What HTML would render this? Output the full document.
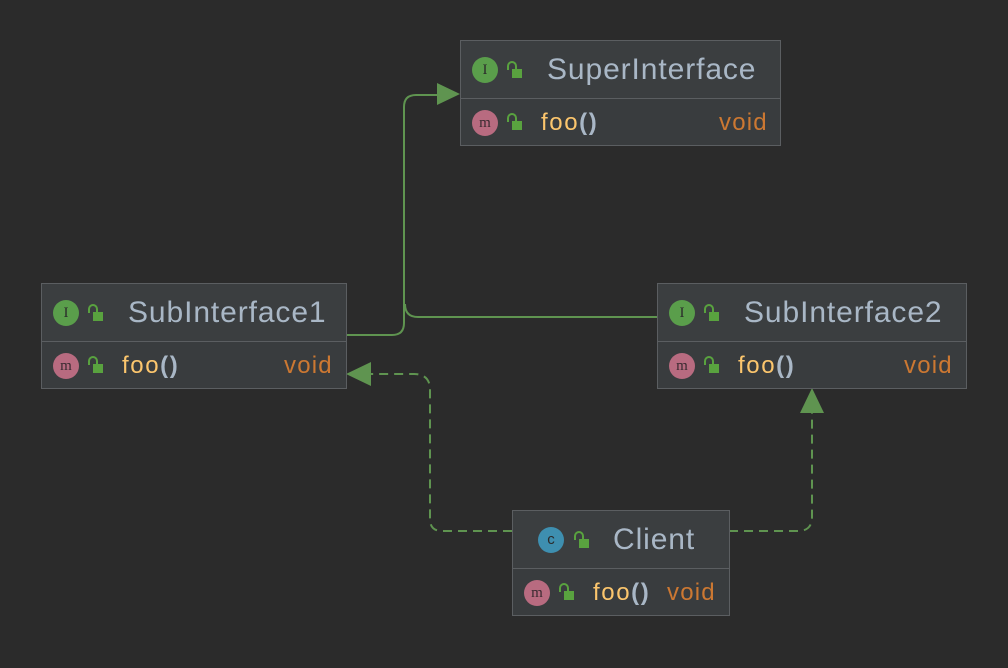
<!DOCTYPE html>
<html><head><style>
body{margin:0;width:1008px;height:668px;background:#2b2b2b;position:relative;overflow:hidden;font-family:"Liberation Sans",sans-serif}
.box{position:absolute;border:1.5px solid #5b5e61;background:#3c3f41;box-sizing:border-box}
.hd{position:absolute;left:0;right:0;top:0;border-bottom:2px solid #5b5e61;background:#3b3e40}
.row{position:absolute;left:0;right:0;bottom:0;background:#393c3e}
.ic{position:absolute;width:26px;height:26px;border-radius:50%;color:#2b2b2b;font-size:15px;text-align:center;line-height:26px;font-family:"Liberation Serif",serif}
.lk{position:absolute;width:10px;height:9px;background:#59a23f}
.lk:before{content:"";position:absolute;left:-5px;top:-8px;width:6px;height:7px;border:2px solid #59a23f;border-bottom:none;border-radius:5px 5px 0 0}
.t{position:absolute;color:#a9b7c6;font-size:30px;letter-spacing:0.9px}
.f{position:absolute;color:#fcc66d;font-size:24px;letter-spacing:1.6px}
.f b{color:#a9b7c6;font-weight:bold}
.v{position:absolute;color:#cc7832;font-size:24px;letter-spacing:1.2px}
</style></head><body>
<svg width="1008" height="668" style="position:absolute;left:0;top:0">
<g fill="none" stroke="#5f9450" stroke-width="2">
<path d="M346 335 H392 Q404 335 404 323 V107 Q404 95 416 95 H440"/>
<path d="M657 317 H418 Q405 317 405 304"/>
<path d="M512 531 H442 Q430 531 430 519 V390 Q430 374 414 374 H370" stroke-dasharray="9,6"/>
<path d="M729 531 H798 Q812 531 812 517 V412" stroke-dasharray="9,6"/>
</g>
<g fill="#5f9450">
<polygon points="460,94 437,83 437,105"/>
<polygon points="346,374 371,362 371,386"/>
<polygon points="812,388 800,413 824,413"/>
</g>
</svg>

<div class="box" style="left:460px;top:40px;width:321px;height:106px">
<div class="hd" style="height:57px"></div><div class="row" style="height:46px"></div>
<div class="ic" style="left:11px;top:16px;background:#5a9e4b">I</div><div class="lk" style="left:51px;top:28px"></div>
<div class="t" style="left:86px;top:12px">SuperInterface</div>
<div class="ic" style="left:11px;top:69px;background:#b86b80;color:#3a2a30">m</div><div class="lk" style="left:51px;top:80px"></div>
<div class="f" style="left:80px;top:68px">foo<b>()</b></div><div class="v" style="left:258px;top:68px">void</div>
</div>

<div class="box" style="left:41px;top:283px;width:306px;height:106px">
<div class="hd" style="height:57px"></div><div class="row" style="height:46px"></div>
<div class="ic" style="left:11px;top:16px;background:#5a9e4b">I</div><div class="lk" style="left:51px;top:28px"></div>
<div class="t" style="left:86px;top:12px">SubInterface1</div>
<div class="ic" style="left:11px;top:69px;background:#b86b80;color:#3a2a30">m</div><div class="lk" style="left:51px;top:80px"></div>
<div class="f" style="left:80px;top:68px">foo<b>()</b></div><div class="v" style="left:242px;top:68px">void</div>
</div>

<div class="box" style="left:657px;top:283px;width:310px;height:106px">
<div class="hd" style="height:57px"></div><div class="row" style="height:46px"></div>
<div class="ic" style="left:11px;top:16px;background:#5a9e4b">I</div><div class="lk" style="left:51px;top:28px"></div>
<div class="t" style="left:86px;top:12px">SubInterface2</div>
<div class="ic" style="left:11px;top:69px;background:#b86b80;color:#3a2a30">m</div><div class="lk" style="left:51px;top:80px"></div>
<div class="f" style="left:80px;top:68px">foo<b>()</b></div><div class="v" style="left:246px;top:68px">void</div>
</div>

<div class="box" style="left:512px;top:510px;width:218px;height:106px">
<div class="hd" style="height:57px"></div><div class="row" style="height:46px"></div>
<div class="ic" style="left:25px;top:16px;background:#3e8fb0;font-family:'Liberation Sans'">c</div><div class="lk" style="left:66px;top:28px"></div>
<div class="t" style="left:100px;top:12px">Client</div>
<div class="ic" style="left:11px;top:69px;background:#b86b80;color:#3a2a30">m</div><div class="lk" style="left:51px;top:80px"></div>
<div class="f" style="left:80px;top:68px">foo<b>()</b></div><div class="v" style="left:154px;top:68px">void</div>
</div>
</body></html>
